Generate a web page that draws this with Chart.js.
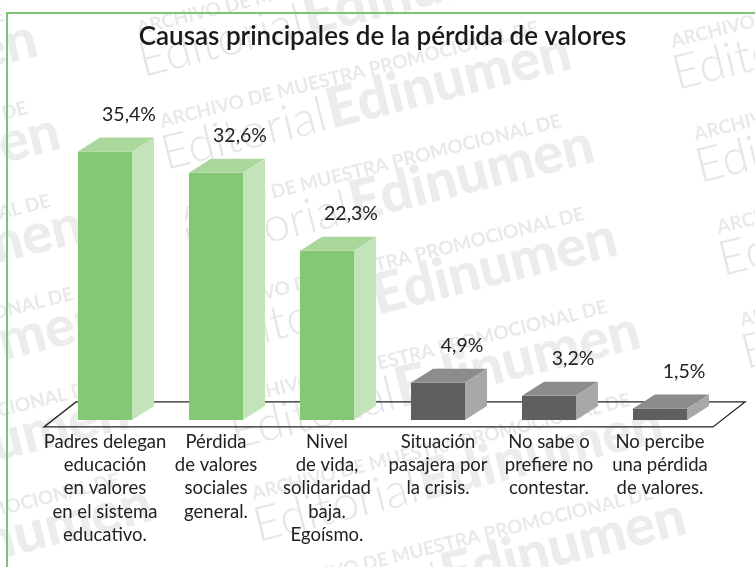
<!DOCTYPE html>
<html>
<head>
<meta charset="utf-8">
<script src="https://cdn.jsdelivr.net/npm/chart.js@4.4.1/dist/chart.umd.min.js"></script>
<style>
  html, body { margin: 0; padding: 0; background: #fff; }
  #wrap { width: 755px; height: 567px; }
</style>
</head>
<body>
<div id="wrap"><canvas id="myChart" width="755" height="567"></canvas></div>
<script>
const title = 'Causas principales de la pérdida de valores';
const categories = [
    ['Padres delegan', 'educación', 'en valores', 'en el sistema', 'educativo.'],
    ['Pérdida', 'de valores', 'sociales', 'general.'],
    ['Nivel', 'de vida,', 'solidaridad', 'baja.', 'Egoísmo.'],
    ['Situación', 'pasajera por', 'la crisis.'],
    ['No sabe o', 'prefiere no', 'contestar.'],
    ['No percibe', 'una pérdida', 'de valores.']
];
const values = [35.4, 32.6, 22.3, 4.9, 3.2, 1.5];
const greenCount = 3; // first bars drawn green, the rest grey

const green = { front: '#84c774', top: '#a9d79c', side: '#c3e3bb' };
const grey = { front: '#5f5f5f', top: '#8c8c8c', side: '#a8a8a8' };
const colorsFor = i => (i < greenCount ? green : grey);

const DX = 22, DY = 14; // depth of the fake 3d boxes
const fmt = v => v.toFixed(1).replace('.', ',') + '%';

function poly(ctx, pts) {
    ctx.beginPath();
    ctx.moveTo(pts[0][0], pts[0][1]);
    for (let k = 1; k < pts.length; k++) ctx.lineTo(pts[k][0], pts[k][1]);
    ctx.closePath();
    ctx.fill();
}

// faint publisher watermark behind everything
function drawMark(ctx, x, y) {
    ctx.save();
    ctx.translate(x, y);
    ctx.rotate(-14 * Math.PI / 180);
    ctx.textBaseline = 'alphabetic';
    ctx.fillStyle = '#e9e9e9';
    ctx.font = 'bold 19px Lato';
    ctx.fillText('ARCHIVO DE MUESTRA PROMOCIONAL DE', 6, -42);
    ctx.fillStyle = '#e6e6e6';
    ctx.font = '300 48px Lato';
    ctx.fillText('Editorial', 0, 0);
    const w = ctx.measureText('Editorial').width;
    ctx.fillStyle = '#ececec';
    ctx.font = '900 56px Lato';
    ctx.fillText('Edinumen', w + 2, 0);
    ctx.restore();
}

const decor = {
    id: 'decor',
    beforeDraw(chart) {
        const ctx = chart.ctx;
        for (let col = -1; col <= 1; col++) {
            for (let row = -1; row <= 6; row++) {
                drawMark(ctx, 143 + col * 534 + row * 23, 77 + col * 13 + row * 93);
            }
        }
    },
    beforeDatasetsDraw(chart) {
        // floor parallelogram
        const ctx = chart.ctx;
        const xs = chart.scales.x, ys = chart.scales.y;
        const y0 = ys.getPixelForValue(0);
        const front = y0 + 7, back = y0 - 18;
        ctx.save();
        ctx.strokeStyle = '#222';
        ctx.lineWidth = 1.3;
        ctx.beginPath();
        ctx.moveTo(xs.left - 5.5, front);
        ctx.lineTo(xs.right - 2.5, front);
        ctx.lineTo(xs.right + 29.5, back);
        ctx.lineTo(xs.left + 26.5, back);
        ctx.closePath();
        ctx.stroke();
        ctx.restore();
    },
    afterDatasetsDraw(chart) {
        const ctx = chart.ctx;
        const meta = chart.getDatasetMeta(0);
        ctx.save();
        meta.data.forEach((bar, i) => {
            const p = bar.getProps(['x', 'y', 'base', 'width'], true);
            const l = p.x - p.width / 2, r = p.x + p.width / 2;
            const c = colorsFor(i);
            ctx.fillStyle = c.top;
            poly(ctx, [[l, p.y], [r, p.y], [r + DX, p.y - DY], [l + DX, p.y - DY]]);
            ctx.fillStyle = c.side;
            poly(ctx, [[r, p.y], [r + DX, p.y - DY], [r + DX, p.base - DY], [r, p.base]]);
            ctx.fillStyle = '#222';
            ctx.font = '19.5px Lato';
            ctx.textAlign = 'center';
            ctx.textBaseline = 'middle';
            ctx.fillText(fmt(values[i]), p.x + 24, p.y - 37);
        });
        ctx.restore();
    },
    afterDraw(chart) {
        const ctx = chart.ctx;
        ctx.save();
        ctx.strokeStyle = '#7cc576';
        ctx.lineWidth = 2;
        ctx.beginPath();
        ctx.moveTo(7, chart.height + 2);
        ctx.lineTo(7, 13);
        ctx.lineTo(chart.width + 2, 13);
        ctx.stroke();
        ctx.restore();
    }
};

const ctx = document.getElementById('myChart').getContext('2d');
new Chart(ctx, {
    type: 'bar',
    data: {
        labels: categories,
        datasets: [{
            data: values,
            backgroundColor: values.map((v, i) => colorsFor(i).front),
            borderWidth: 0,
            barPercentage: 0.4865,
            categoryPercentage: 1
        }]
    },
    options: {
        responsive: false,
        animation: false,
        layout: { padding: { left: 49.5, right: 39.5, top: 0, bottom: 10.5 } },
        scales: {
            x: {
                grid: { display: false, drawTicks: false },
                border: { display: false },
                ticks: {
                    color: '#222',
                    font: { family: 'Lato', size: 18.5, lineHeight: 1.26 },
                    padding: 10,
                    maxRotation: 0,
                    autoSkip: false
                }
            },
            y: { display: false, min: 0, max: 48 }
        },
        plugins: {
            legend: { display: false },
            tooltip: { enabled: false },
            title: {
                display: true,
                text: title,
                color: '#1a1a1a',
                font: { family: 'Lato', size: 26, weight: 600, lineHeight: 1.2 },
                padding: { top: 21.4, bottom: 3.4 }
            }
        }
    },
    plugins: [decor]
});
</script>
</body>
</html>
